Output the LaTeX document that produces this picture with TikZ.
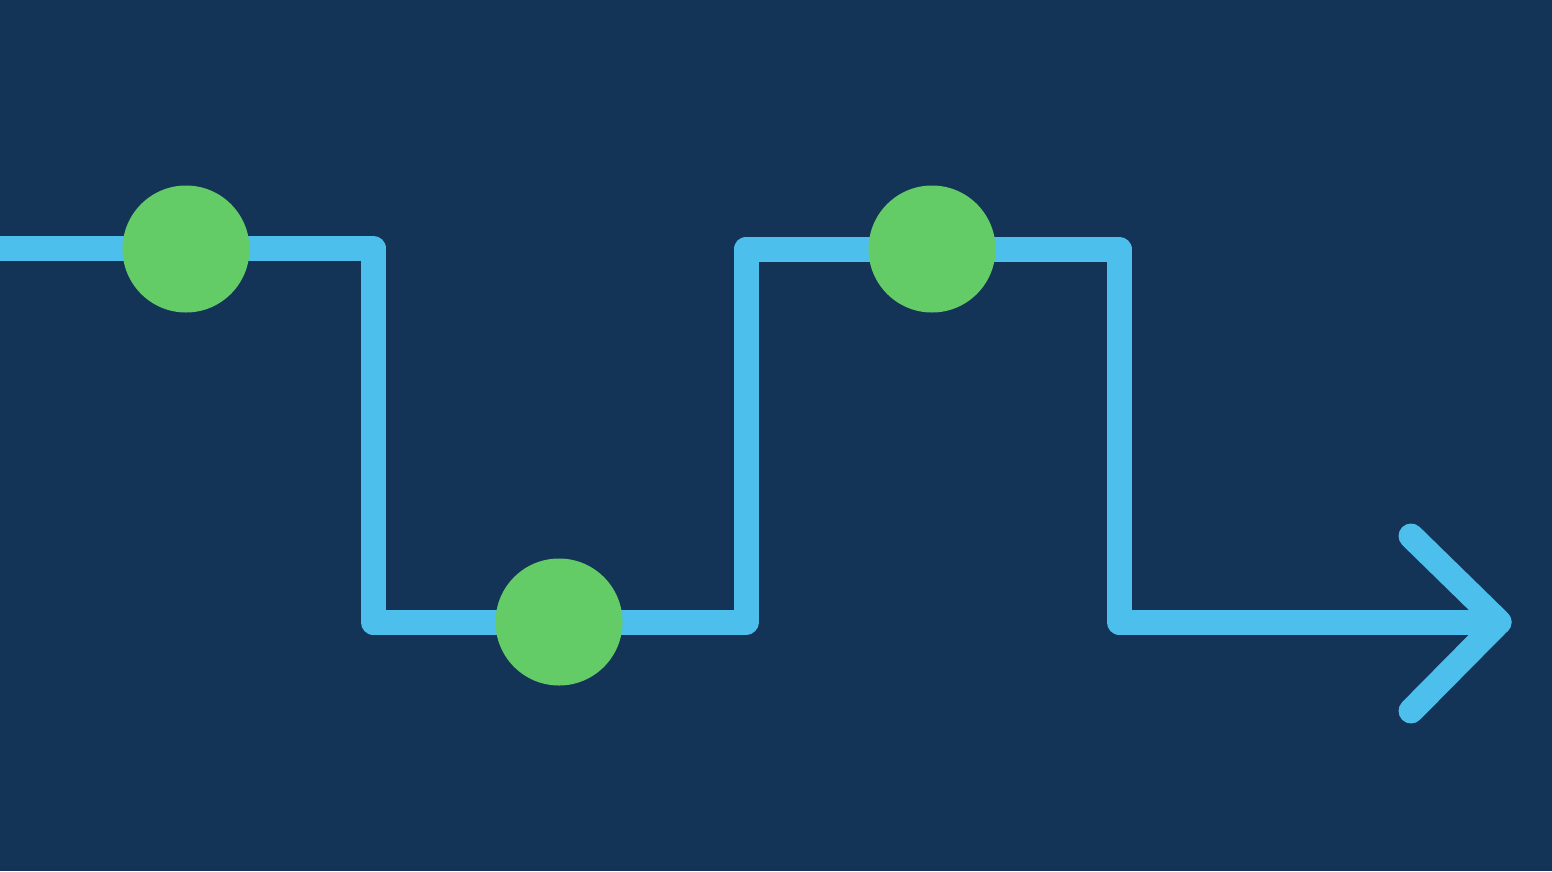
\documentclass[tikz,border=0pt]{standalone}
\definecolor{bgnavy}{HTML}{143457}
\definecolor{lineblue}{HTML}{4DBFEC}
\definecolor{dotgreen}{HTML}{64CC66}
\begin{document}
\begin{tikzpicture}[x=1pt,y=-1pt,
  wire/.style={draw=lineblue,line width=25pt,line cap=round,line join=round},
  dot/.style={circle,fill=dotgreen,minimum size=127pt,inner sep=0pt}]
\fill[bgnavy] (0,0) rectangle (1552,871);
\useasboundingbox (0,0) rectangle (1552,871);
\coordinate (s) at (-20,248);
\coordinate (c1) at (373,248);
\coordinate (c2) at (373,622);
\coordinate (c3) at (746,622);
\coordinate (c4) at (746,249);
\coordinate (c5) at (1119,249);
\coordinate (c6) at (1119,622);
\coordinate (tip) at (1499,622);
\coordinate (a1) at (1411,536);
\coordinate (a2) at (1411,711);
\draw[wire] (s) -- (c1) -- (c2) -- (c3) -- (c4) -- (c5) -- (c6) -- (tip);
\draw[wire] (a1) -- (tip) -- (a2);
\node[dot] (d1) at (186,249) {};
\node[dot] (d2) at (559,622) {};
\node[dot] (d3) at (932,249) {};
\end{tikzpicture}
\end{document}
